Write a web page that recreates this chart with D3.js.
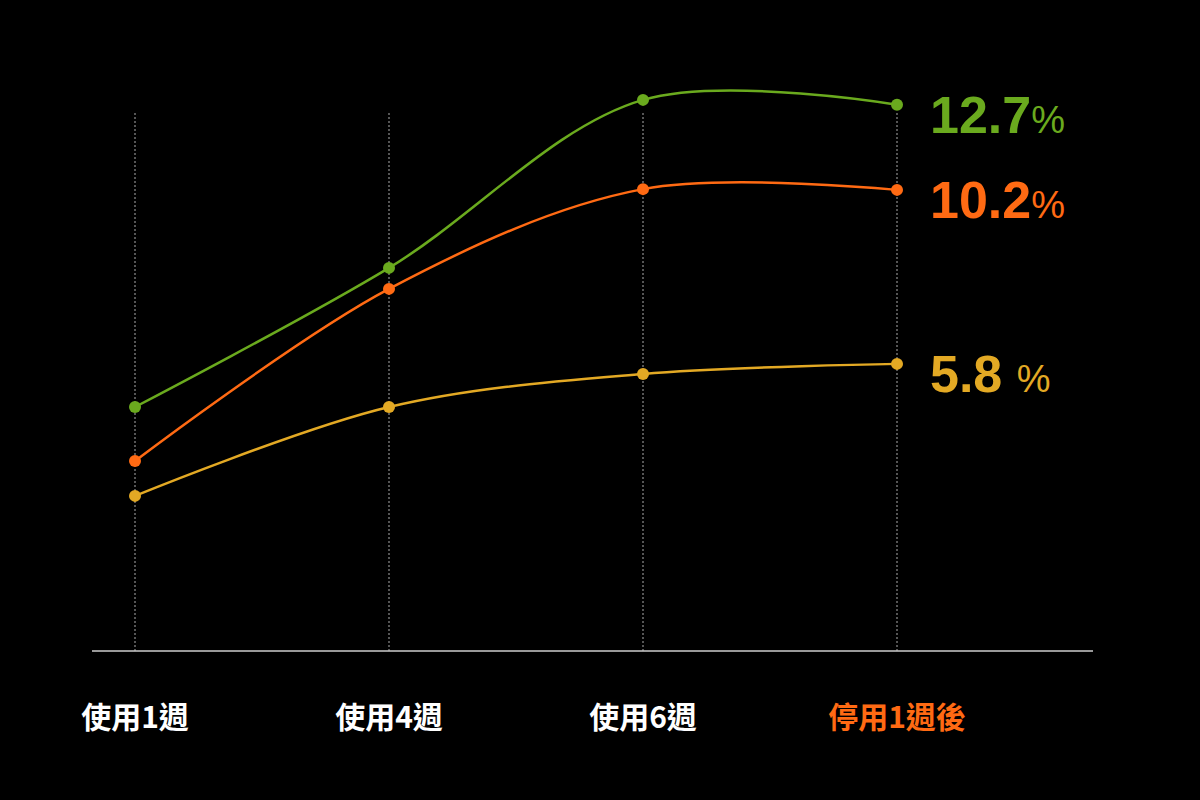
<!DOCTYPE html>
<html><head><meta charset="utf-8">
<script src="https://cdn.jsdelivr.net/npm/d3@7"></script>
<style>body{margin:0;background:#000}</style>
</head><body>
<svg id="c" width="1200" height="800"></svg>
<script>
// categorías y series
const categories = ["使用1週", "使用4週", "使用6週", "停用1週後"];
const green = [4.64, 8.35, 12.83, 12.7];
const orange = [3.2, 7.79, 10.45, 10.43];
const yellow = [2.27, 4.64, 5.52, 5.79];
const endLabels = ["12.7", "10.2", "5.8 "];

const series = [
  { values: green, color: "#6aaa1e", label: endLabels[0] },
  { values: orange, color: "#ff6a13", label: endLabels[1] },
  { values: yellow, color: "#e3a924", label: endLabels[2] }
];

const svg = d3.select("#c");
svg.append("rect").attr("width", 1200).attr("height", 800).attr("fill", "#000");

const x = d3.scalePoint(categories, [135, 897]);
const y = d3.scaleLinear([0, 14], [581, 56]);

// líneas verticales punteadas
svg.selectAll("line.grid").data(categories).enter().append("line")
  .attr("x1", d => x(d)).attr("x2", d => x(d))
  .attr("y1", 113).attr("y2", 651)
  .attr("stroke", "#aaa").attr("stroke-width", 1).attr("stroke-dasharray", "2,2");

// eje base
svg.append("line").attr("x1", 92).attr("x2", 1093).attr("y1", 651).attr("y2", 651)
  .attr("stroke", "#ccc").attr("stroke-width", 1.5);

svg.selectAll("text.cat").data(categories).enter().append("text")
  .attr("x", d => x(d)).attr("y", 728)
  .attr("text-anchor", "middle")
  .attr("font-family", "Noto Sans CJK TC").attr("font-weight", "bold").attr("font-size", 30)
  .attr("fill", (d, i) => i === 3 ? "#ff6a13" : "#fff")
  .text(d => d);

const line = d3.line().x((d, i) => x(categories[i])).y(d => y(d)).curve(d3.curveCatmullRom);

series.forEach(s => {
  svg.append("path").attr("d", line(s.values)).attr("fill", "none")
    .attr("stroke", s.color).attr("stroke-width", 2.5);
  svg.selectAll(null).data(s.values).enter().append("circle")
    .attr("cx", (d, i) => x(categories[i])).attr("cy", d => y(d)).attr("r", 6)
    .attr("fill", s.color);
  const t = svg.append("text")
    .attr("x", 930).attr("y", y(s.values[3]) + 28)
    .attr("font-family", "Liberation Sans, Arial").attr("font-weight", "bold")
    .attr("fill", s.color).attr("xml:space", "preserve");
  t.append("tspan").attr("font-size", 52).text(s.label);
  t.append("tspan").attr("font-size", 38).attr("font-weight", "normal").text("%");
});
</script>
</body></html>
